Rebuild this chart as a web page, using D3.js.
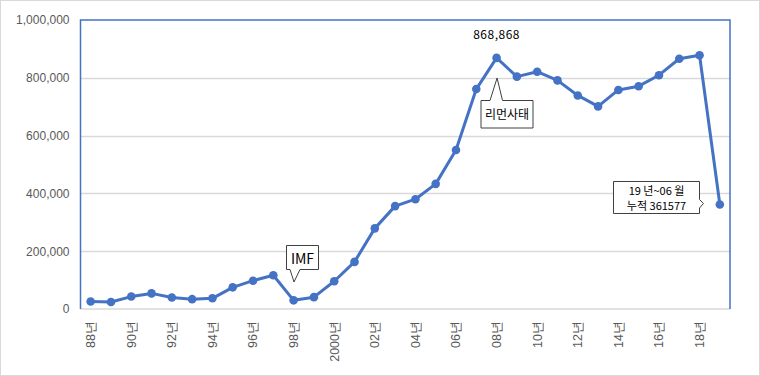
<!DOCTYPE html>
<html>
<head>
<meta charset="utf-8">
<script src="https://cdn.jsdelivr.net/npm/d3@7"></script>
<style>
  body { margin: 0; background: #fff; }
  svg { font-family: "Malgun Gothic", "Noto Sans CJK KR", "Liberation Sans", sans-serif; }
</style>
</head>
<body>
<svg id="chart" width="760" height="376"></svg>
<script>
// yearly values, 1988 ~ 2019(06)
const years = ['88', '89', '90', '91', '92', '93', '94', '95', '96', '97', '98', '99',
    '2000', '01', '02', '03', '04', '05', '06', '07', '08', '09', '10', '11', '12',
    '13', '14', '15', '16', '17', '18', '19'];
const values = [26000, 24000, 43000, 54000, 40000, 34000, 37000, 75000, 98000, 117000,
    30000, 41000, 96000, 163000, 279000, 356000, 380000, 433000, 550000, 761000,
    868868, 804000, 821000, 791000, 739000, 701000, 758000, 771000, 809000, 866000,
    878000, 361577];
const yTicks = [0, 200000, 400000, 600000, 800000, 1000000];

const svg = d3.select('#chart');
const margin = {left: 80.5, right: 30, top: 20, bottom: 67};
const width = 760, height = 376;

// outer frame
svg.append('rect')
    .attr('x', 0.5).attr('y', 0.5)
    .attr('width', width - 1).attr('height', height - 1)
    .attr('fill', '#fff').attr('stroke', '#d9d9d9');

const x = d3.scaleBand()
    .domain(years)
    .range([margin.left, width - margin.right]);
const y = d3.scaleLinear()
    .domain([0, 1000000])
    .range([height - margin.bottom, margin.top]);

const fmt = d3.format(',');

// gridlines
svg.append('g')
    .selectAll('line')
    .data(yTicks.slice(1, -1))
    .enter().append('line')
    .attr('x1', margin.left).attr('x2', width - margin.right)
    .attr('y1', d => Math.round(y(d)) + 0.5).attr('y2', d => Math.round(y(d)) + 0.5)
    .attr('stroke', '#d9d9d9').attr('stroke-width', 1.5);

// bottom axis line
svg.append('line')
    .attr('x1', margin.left).attr('x2', width - margin.right)
    .attr('y1', y(0)).attr('y2', y(0))
    .attr('stroke', '#d9d9d9').attr('stroke-width', 1.5);

// plot area frame (blue) : left, top, right
svg.append('path')
    .attr('d', `M${margin.left},${y(0)} V${y(1000000)} H${width - margin.right} V${y(0)}`)
    .attr('fill', 'none').attr('stroke', '#4472c4').attr('stroke-width', 1.5);

// y axis
const yAxis = svg.append('g')
    .attr('transform', 'translate(' + (margin.left - 11) + ',0)')
    .call(d3.axisLeft(y).tickValues(yTicks).tickFormat(fmt).tickSize(0));
yAxis.select('.domain').remove();
yAxis.selectAll('text')
    .attr('fill', '#595959')
    .style('font-size', '12px')
    .attr('x', 0);

// x axis (every other year)
const xAxis = svg.append('g')
    .attr('transform', 'translate(0,' + y(0) + ')')
    .call(d3.axisBottom(x).tickValues(years.filter((d, i) => i % 2 === 0))
        .tickFormat(d => d + '년').tickSize(0));
xAxis.select('.domain').remove();
xAxis.selectAll('text')
    .attr('fill', '#595959')
    .style('font-size', '12.5px')
    .attr('text-anchor', 'end')
    .attr('transform', 'rotate(-90)')
    .attr('x', -12)
    .attr('y', 0)
    .attr('dy', '0.35em');

const cx = d => x(d) + x.bandwidth() / 2;

// line
const line = d3.line()
    .x((d, i) => cx(years[i]))
    .y(d => y(d));
svg.append('path')
    .datum(values)
    .attr('d', line)
    .attr('fill', 'none')
    .attr('stroke', '#4472c4')
    .attr('stroke-width', 3)
    .attr('stroke-linejoin', 'round');

svg.append('g')
    .selectAll('circle')
    .data(values)
    .enter().append('circle')
    .attr('cx', (d, i) => cx(years[i]))
    .attr('cy', d => y(d))
    .attr('r', 4.3)
    .attr('fill', '#4472c4');

// ****************** annotations ***************************

// peak label
const peakIdx = years.indexOf('08');
svg.append('text')
    .attr('x', cx('08'))
    .attr('y', y(values[peakIdx]) - 19)
    .attr('text-anchor', 'middle')
    .style('font-size', '12px')
    .attr('fill', '#000')
    .attr('letter-spacing', '0.5px')
    .text(fmt(values[peakIdx]));

// callout with the pointer on top (리먼사태)
function calloutTop(bx, by, bw, bh, tipX, tipY, b1, b2) {
    return `M${bx},${by} H${b1} L${tipX},${tipY} L${b2},${by} H${bx + bw} V${by + bh} H${bx} Z`;
}
// callout with the pointer below (IMF)
function calloutBottom(bx, by, bw, bh, tipX, tipY, b1, b2) {
    return `M${bx},${by} H${bx + bw} V${by + bh} H${b2} L${tipX},${tipY} L${b1},${by + bh} H${bx} Z`;
}
// callout with the pointer on right side
function calloutRight(bx, by, bw, bh, tipX, tipY, b1, b2) {
    return `M${bx},${by} H${bx + bw} V${b1} L${tipX},${tipY} L${bx + bw},${b2} V${by + bh} H${bx} Z`;
}

const ann = svg.append('g');

// 리먼사태
const lx = cx('08');
ann.append('path')
    .attr('d', calloutTop(481, 100.5, 52, 27.5, lx + 0.5, 78, 490, 502.5))
    .attr('fill', '#fff').attr('stroke', '#404040').attr('stroke-width', 1);
ann.append('text')
    .attr('x', 507).attr('y', 118.5)
    .attr('text-anchor', 'middle')
    .style('font-size', '12px')
    .text('리먼사태');

// IMF
ann.append('path')
    .attr('d', calloutBottom(286.5, 245.5, 32, 24, 294, 282, 290, 300))
    .attr('fill', '#fff').attr('stroke', '#404040').attr('stroke-width', 1);
ann.append('text')
    .attr('x', 302.5).attr('y', 263.5)
    .attr('text-anchor', 'middle')
    .style('font-size', '14px')
    .text('IMF');

// 19년~06월 누적
ann.append('path')
    .attr('d', calloutRight(613.5, 181.5, 86, 32, 703.5, 203.5, 199.5, 208))
    .attr('fill', '#fff').attr('stroke', '#404040').attr('stroke-width', 1);
ann.append('text')
    .attr('x', 656.5).attr('y', 195)
    .attr('text-anchor', 'middle')
    .style('font-size', '11px')
    .text('19 년~06 월');
ann.append('text')
    .attr('x', 656.5).attr('y', 209.5)
    .attr('text-anchor', 'middle')
    .style('font-size', '11px')
    .text('누적 ' + values[values.length - 1]);
</script>
</body>
</html>
